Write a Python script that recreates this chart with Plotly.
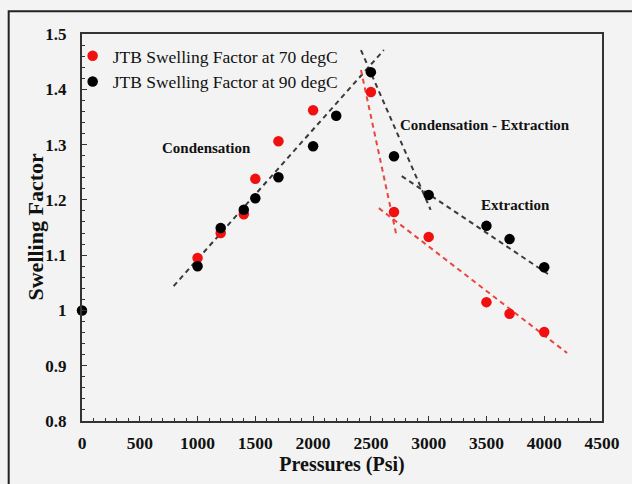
import plotly.graph_objects as go

# Data
pressure_70 = [1000, 1200, 1400, 1500, 1700, 2000, 2500, 2700, 3000, 3500, 3700, 4000]
swelling_70 = [1.095, 1.140, 1.174, 1.238, 1.306, 1.362, 1.395, 1.178, 1.133, 1.015, 0.994, 0.961]

pressure_90 = [0, 1000, 1200, 1400, 1500, 1700, 2000, 2200, 2500, 2700, 3000, 3500, 3700, 4000]
swelling_90 = [1.0, 1.080, 1.149, 1.182, 1.203, 1.241, 1.297, 1.352, 1.431, 1.279, 1.209, 1.153, 1.129, 1.078]

# Trend lines (endpoints)
trend_cond_x = [793, 2612]
trend_cond_y = [1.044, 1.471]
trend_ce90_x = [2414, 3017]
trend_ce90_y = [1.471, 1.182]
trend_ce70_x = [2414, 2724]
trend_ce70_y = [1.435, 1.133]
trend_ex90_x = [2767, 4060]
trend_ex90_y = [1.243, 1.062]
trend_ex70_x = [2569, 4198]
trend_ex70_y = [1.185, 0.923]

legend_70 = "JTB Swelling Factor at 70 degC"
legend_90 = "JTB Swelling Factor at 90 degC"
x_title = "Pressures (Psi)"
y_title = "Swelling Factor"

FONT = "Liberation Serif"
BG = "#f2f3f2"
BLACK_LINE = "#3a3a3a"
RED_LINE = "#e8463f"

fig = go.Figure()

def trend(x, y, color):
    fig.add_trace(go.Scatter(x=x, y=y, mode="lines", showlegend=False, hoverinfo="skip",
                             line=dict(color=color, width=2, dash="5px,4px")))

trend(trend_cond_x, trend_cond_y, BLACK_LINE)
trend(trend_ce90_x, trend_ce90_y, BLACK_LINE)
trend(trend_ce70_x, trend_ce70_y, RED_LINE)
trend(trend_ex90_x, trend_ex90_y, BLACK_LINE)
trend(trend_ex70_x, trend_ex70_y, RED_LINE)

fig.add_trace(go.Scatter(x=pressure_70, y=swelling_70, mode="markers", name=legend_70,
                         marker=dict(color="#f01010", size=10.5), cliponaxis=False))
fig.add_trace(go.Scatter(x=pressure_90, y=swelling_90, mode="markers", name=legend_90,
                         marker=dict(color="#000000", size=10.5), cliponaxis=False))

annots = [
    ("Condensation", 1078, 1.294),
    ("Condensation - Extraction", 3491, 1.335),
    ("Extraction", 3750, 1.19),
]
for txt, ax_, ay_ in annots:
    fig.add_annotation(x=ax_, y=ay_, text=txt, showarrow=False,
                       font=dict(family=FONT, size=15, color="#111", weight="bold"))

# y-axis title placed as rotated text left of the tick labels
fig.add_annotation(xref="paper", yref="paper", x=0, y=0.5, xshift=-47,
                   text=y_title, textangle=-90, showarrow=False,
                   xanchor="center", yanchor="middle",
                   font=dict(family=FONT, size=22, color="#111", weight="bold"))

fig.update_layout(
    width=632, height=484,
    margin=dict(l=82, r=28, t=34, b=63),
    paper_bgcolor=BG, plot_bgcolor=BG,
    font=dict(family=FONT, color="#111"),
    showlegend=True,
    legend=dict(x=-0.018, y=0.99, xanchor="left", yanchor="top",
                bgcolor="rgba(0,0,0,0)", font=dict(family=FONT, size=17.5, color="#111"),
                itemwidth=30, tracegroupgap=0),
    xaxis=dict(range=[0, 4500], dtick=500, tick0=0, tickformat="d",
               showgrid=False, zeroline=False,
               showline=True, linecolor="#333", linewidth=2, mirror=True,
               ticks="inside", ticklen=5, tickcolor="#333", tickwidth=1,
               minor=dict(dtick=100, ticks="inside", ticklen=3, tickcolor="#333", showgrid=False),
               tickfont=dict(family=FONT, size=17.5, color="#111", weight="bold"),
               ticklabelstandoff=5,
               title=dict(text=x_title, standoff=4,
                          font=dict(family=FONT, size=20, color="#111", weight="bold"))),
    yaxis=dict(range=[0.8, 1.5], dtick=0.1, tick0=0.8,
               showgrid=False, zeroline=False,
               showline=True, linecolor="#333", linewidth=2, mirror=True,
               ticks="inside", ticklen=5, tickcolor="#333", tickwidth=1,
               minor=dict(dtick=0.02, ticks="inside", ticklen=3, tickcolor="#333", showgrid=False),
               tickfont=dict(family=FONT, size=17, color="#111", weight="bold"),
               ticklabelstandoff=10),
)

# outer frame of the figure
fig.add_shape(type="rect", xref="paper", yref="paper",
              x0=-0.141, x1=1.2, y0=-0.3, y1=1.059,
              line=dict(color="#222", width=2), fillcolor="rgba(0,0,0,0)", layer="below")

fig.write_html("out.html")
